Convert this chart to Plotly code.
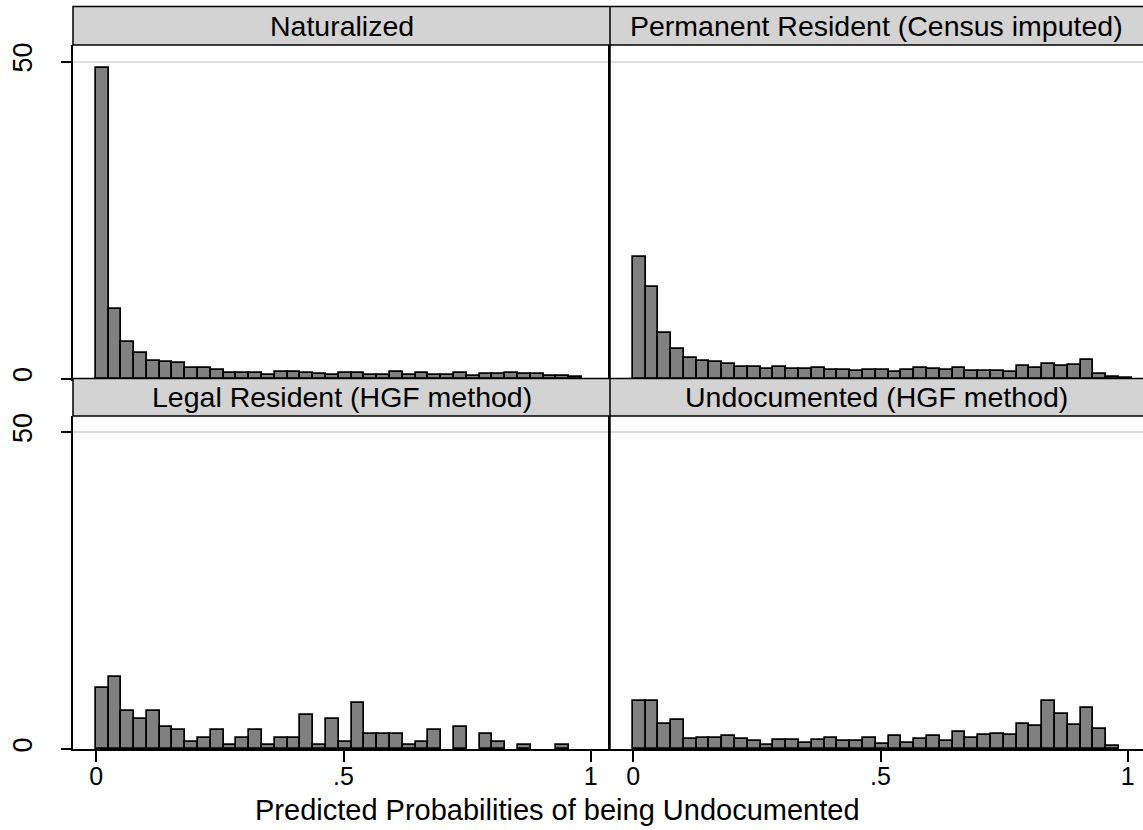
import plotly.graph_objects as go

# ---- data (percent per bin) ----
bin_start = -0.0012
bin_width = 0.02588

panel_titles = ["Naturalized", "Permanent Resident (Census imputed)",
                "Legal Resident (HGF method)", "Undocumented (HGF method)"]

naturalized = [48.9, 10.9, 5.78, 4.05, 2.79, 2.58, 2.42, 1.58, 1.58, 1.42,
               0.79, 0.79, 0.79, 0.53, 1.0, 1.0, 0.79, 0.68, 0.53,
               0.92, 0.8, 0.6, 0.6, 0.97, 0.6, 0.8, 0.6, 0.6, 0.92,
               0.45, 0.65, 0.65, 0.92, 0.75, 0.75, 0.45, 0.45, 0.18]
permanent = [19.1, 14.4, 7.2, 4.7, 3.2, 2.8, 2.65, 2.3, 1.75, 1.75,
             1.55, 1.75, 1.55, 1.55, 1.7, 1.34, 1.4, 1.18, 1.4,
             1.34, 1.08, 1.34, 1.7, 1.45, 1.34, 1.6, 1.24, 1.24, 1.24,
             1.03, 2.02, 1.66, 2.34, 1.97, 2.13, 2.92, 0.71, 0.29, 0.13]
legal = [9.57, 11.4, 5.99, 4.78, 5.99, 3.52, 3.0, 1.16, 1.79, 3.0,
         0.58, 1.79, 3.0, 0.58, 1.79, 1.79, 5.36, 0.58, 4.78, 1.16,
         7.2, 2.31, 2.31, 2.31, 0.58, 1.16, 3.0, 0, 3.52, 0,
         2.31, 1.16, 0, 0.58, 0, 0, 0.58]
undocumented = [7.57, 7.5, 4.0, 4.57, 1.63, 1.79, 1.79, 2.05, 1.52, 1.21,
                0.63, 1.42, 1.42, 0.95, 1.42, 1.79, 1.21, 1.21, 1.79,
                0.84, 2.05, 0.89, 1.58, 2.05, 1.21, 2.63, 1.79, 2.26, 2.37,
                2.16, 3.89, 3.63, 7.57, 5.47, 3.73, 6.41, 3.21, 0.47]

x_tickvals = [0, 0.5, 1]
x_ticktext = ["0", ".5", "1"]
y_tickvals = [0, 50]
y_ticktext = ["0", "50"]
x_title = "Predicted Probabilities of being Undocumented"

# ---- layout geometry (pixels) ----
W, H = 1143, 830
FONT = "Liberation Sans, Arial, Helvetica, sans-serif"
left_px, mid_px, right_px = 73, 610, 1143
row_px = [(45, 378.5), (416, 749)]     # plot area top/bottom per row
strip_px = [(6.5, 45), (378.5, 416)]   # strip top/bottom per row
px_per_unit_x = 494.4
zero_off = 23.3

def fx(p):
    return p / W

def fy(p):
    return 1 - p / H

fig = go.Figure()

series = [naturalized, permanent, legal, undocumented]
for k, vals in enumerate(series):
    r, c = divmod(k, 2)
    idx = k + 1
    xa = "x" if idx == 1 else f"x{idx}"
    ya = "y" if idx == 1 else f"y{idx}"
    centers = [bin_start + (i + 0.5) * bin_width for i in range(len(vals))]
    heights = [v if v > 0 else None for v in vals]
    fig.add_trace(go.Bar(x=centers, y=heights, width=bin_width,
                         marker=dict(color="#808080",
                                     line=dict(color="black", width=1.7)),
                         xaxis=xa, yaxis=ya, showlegend=False,
                         hoverinfo="skip"))

    x0 = left_px if c == 0 else mid_px
    x1 = mid_px if c == 0 else right_px
    width_px = x1 - x0
    xr = [-zero_off / px_per_unit_x, (width_px - zero_off) / px_per_unit_x]
    top, bot = row_px[r]
    yr = [0, (bot - top) / 6.34]

    xkey = "xaxis" if idx == 1 else f"xaxis{idx}"
    ykey = "yaxis" if idx == 1 else f"yaxis{idx}"
    xaxis = dict(domain=[fx(x0), fx(x1)], range=xr, anchor=ya,
                 showgrid=False, zeroline=False, automargin=False,
                 showline=True, linecolor="black", linewidth=1.5,
                 fixedrange=True)
    if r == 1:
        xaxis.update(tickvals=x_tickvals, ticktext=x_ticktext,
                     ticks="outside", ticklen=11, tickwidth=1.5,
                     tickcolor="black",
                     tickfont=dict(family=FONT, size=25, color="black"),
                     ticklabelstandoff=-7)
    else:
        xaxis.update(showticklabels=False, ticks="")
    yaxis = dict(domain=[fy(bot), fy(top)], range=yr, anchor=xa,
                 tickvals=y_tickvals, ticktext=y_ticktext,
                 showgrid=True, gridcolor="#dedede", gridwidth=2,
                 zeroline=False, automargin=False,
                 showline=True, linecolor="black", linewidth=1.5,
                 fixedrange=True)
    if c == 0:
        yaxis.update(ticks="outside", ticklen=10, tickwidth=1.5,
                     tickcolor="black", tickangle=-90,
                     tickfont=dict(family=FONT, size=27, color="black"),
                     ticklabelstandoff=18)
    else:
        yaxis.update(showticklabels=False, ticks="")
    fig.layout[xkey] = xaxis
    fig.layout[ykey] = yaxis

shapes = []
annotations = []
for r in range(2):
    s0, s1 = strip_px[r]
    shapes.append(dict(type="rect", xref="paper", yref="paper",
                       x0=fx(left_px), x1=1.01, y0=fy(s1), y1=fy(s0),
                       fillcolor="#d3d3d3",
                       line=dict(color="black", width=1.5), layer="above"))
    for c in range(2):
        cx = (left_px + mid_px) / 2 if c == 0 else (mid_px + right_px) / 2
        annotations.append(dict(text=panel_titles[2 * r + c], xref="paper",
                                yref="paper", x=fx(cx), y=fy((s0 + s1) / 2),
                                xanchor="center", yanchor="middle",
                                showarrow=False,
                                font=dict(family=FONT, size=28.5,
                                          color="black")))
# vertical divider between columns
shapes.append(dict(type="line", xref="paper", yref="paper",
                   x0=fx(mid_px), x1=fx(mid_px), y0=fy(749), y1=fy(6.5),
                   line=dict(color="black", width=1.5), layer="above"))

annotations.append(dict(text=x_title, xref="paper", yref="paper",
                        x=fx(253), y=fy(810), xanchor="left",
                        yanchor="middle", showarrow=False,
                        font=dict(family=FONT, size=29, color="black")))

fig.update_layout(width=W, height=H,
                  margin=dict(l=0, r=0, t=0, b=0),
                  paper_bgcolor="white", plot_bgcolor="white",
                  bargap=0, shapes=shapes, annotations=annotations,
                  font=dict(family=FONT, color="black"))

fig.write_html("out.html",
               config={"displayModeBar": False},
               post_script="document.body.style.margin='0';"
                           "document.body.style.overflow='hidden';")
